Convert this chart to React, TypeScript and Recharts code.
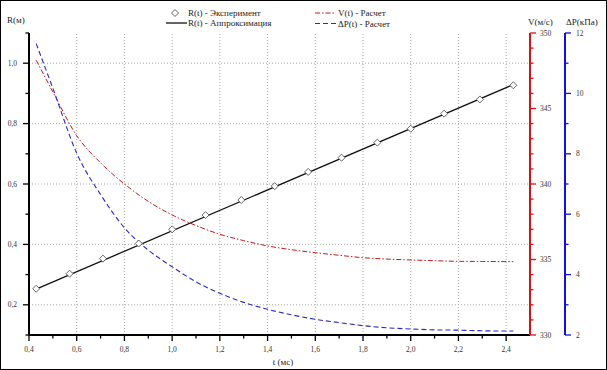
import React from 'react';
import { ComposedChart, XAxis, YAxis, Line, Scatter, ReferenceLine } from 'recharts';

// Experiment points R(t)
const tExp = [0.43, 0.57, 0.71, 0.86, 1.0, 1.14, 1.29, 1.43, 1.57, 1.71, 1.86, 2.0, 2.14, 2.29, 2.43];
const rExp = [0.253, 0.303, 0.353, 0.403, 0.45, 0.497, 0.547, 0.593, 0.64, 0.687, 0.737, 0.783, 0.833, 0.88, 0.927];
// Approximation line
const tFit = [0.43, 2.43];
const rFit = [0.252, 0.929];
// Calculated V(t) and dP(t)
const tCalc = [0.43, 0.5, 0.6, 0.7, 0.8, 0.9, 1.0, 1.1, 1.2, 1.3, 1.4, 1.5, 1.6, 1.7, 1.8, 1.9, 2.0, 2.1, 2.2, 2.3, 2.43];
const vCalc = [348.2, 346.1, 343.2, 341.4, 340.0, 338.85, 337.95, 337.25, 336.67, 336.25, 335.9, 335.65, 335.45, 335.28, 335.12, 335.03, 334.97, 334.92, 334.88, 334.87, 334.86];
const pCalc = [11.65, 10.17, 8.02, 6.65, 5.55, 4.81, 4.26, 3.76, 3.38, 3.08, 2.85, 2.67, 2.52, 2.41, 2.31, 2.24, 2.2, 2.17, 2.16, 2.14, 2.13];

// Ticks
const xTicks = [0.4, 0.5, 0.6, 0.7, 0.8, 0.9, 1.0, 1.1, 1.2, 1.3, 1.4, 1.5, 1.6, 1.7, 1.8, 1.9, 2.0, 2.1, 2.2, 2.3, 2.4];
const rTicks = [0.1, 0.2, 0.3, 0.4, 0.5, 0.6, 0.7, 0.8, 0.9, 1.0, 1.1];
const vTicks = [330, 331, 332, 333, 334, 335, 336, 337, 338, 339, 340, 341, 342, 343, 344, 345, 346, 347, 348, 349, 350];
const pTicks = [2, 3, 4, 5, 6, 7, 8, 9, 10, 11, 12];
const xGrid = [0.6, 0.8, 1.0, 1.2, 1.4, 1.6, 1.8, 2.0, 2.2, 2.4];
const rGrid = [0.2, 0.4, 0.6, 0.8, 1.0];

const expData = tExp.map((t, i) => ({ t, r: rExp[i] }));
const fitData = tFit.map((t, i) => ({ t, r: rFit[i] }));
const calcData = tCalc.map((t, i) => ({ t, v: vCalc[i], p: pCalc[i] }));

const FONT = '"Liberation Serif", "DejaVu Serif", serif';
const LABEL_COLOR = '#333';
const RED = '#e01010';
const BLUE = '#1010e0';

const fmt = (v: number) => v.toFixed(1).replace('.', ',');

const XTick = (props: any) => {
  const { x, y, payload } = props;
  const v = payload.value as number;
  const major = Math.round(v * 10) % 2 === 0;
  return (
    <g>
      <line x1={x} y1={y} x2={x} y2={y + (major ? 6 : 3.5)} stroke="#000" strokeWidth={1.3} />
      {major && (
        <text x={x} y={y + 14} textAnchor="middle" dominantBaseline="central" fontSize={7.5} fontFamily={FONT} fill={LABEL_COLOR} stroke="none">
          {fmt(v)}
        </text>
      )}
    </g>
  );
};

const RTick = (props: any) => {
  const { x, y, payload } = props;
  const v = payload.value as number;
  const major = Math.round(v * 10) % 2 === 0;
  return (
    <g>
      <line x1={x} y1={y} x2={x - (major ? 6 : 3.5)} y2={y} stroke="#000" strokeWidth={1.3} />
      {major && (
        <text x={x - 12} y={y} textAnchor="end" dominantBaseline="central" fontSize={7.5} fontFamily={FONT} fill={LABEL_COLOR} stroke="none">
          {fmt(v)}
        </text>
      )}
    </g>
  );
};

const VTick = (props: any) => {
  const { x, y, payload } = props;
  const v = payload.value as number;
  const major = v % 5 === 0;
  return (
    <g>
      <line x1={x} y1={y} x2={x + (major ? 6 : 3.5)} y2={y} stroke={RED} strokeWidth={1.3} />
      {major && (
        <text x={x + 10} y={y} textAnchor="start" dominantBaseline="central" fontSize={7.5} fontFamily={FONT} fill={LABEL_COLOR} stroke="none">
          {v}
        </text>
      )}
    </g>
  );
};

const PTick = (props: any) => {
  const { x, y, payload } = props;
  const v = payload.value as number;
  const major = v % 2 === 0;
  return (
    <g>
      <line x1={x} y1={y} x2={x + (major ? 6 : 3.5)} y2={y} stroke={BLUE} strokeWidth={1.3} />
      {major && (
        <text x={x + 11} y={y} textAnchor="start" dominantBaseline="central" fontSize={7.5} fontFamily={FONT} fill={LABEL_COLOR} stroke="none">
          {v}
        </text>
      )}
    </g>
  );
};

const Diamond = (props: any) => {
  const { cx, cy } = props;
  if (cx == null || cy == null) return <g />;
  const s = 3.5;
  return (
    <polygon
      points={`${cx},${cy - s} ${cx + s},${cy} ${cx},${cy + s} ${cx - s},${cy}`}
      fill="#fff"
      stroke="#555"
      strokeWidth={0.9}
    />
  );
};

const textStyle: React.CSSProperties = {
  position: 'absolute',
  fontFamily: FONT,
  fontSize: 9,
  color: '#222',
  whiteSpace: 'nowrap',
  lineHeight: '10px',
};

export default function App() {
  return (
    <div style={{ position: 'absolute', left: 0, top: 0, width: 607, height: 370, background: '#fff', overflow: 'hidden' }}>
      <div style={{ position: 'absolute', left: 0, top: 0 }}>
        <ComposedChart width={607} height={370} margin={{ top: 33, right: 0, bottom: 0, left: 0 }}>
          <XAxis
            type="number"
            dataKey="t"
            domain={[0.4, 2.5]}
            allowDataOverflow
            ticks={xTicks}
            interval={0}
            height={35}
            tickSize={0}
            tickMargin={0}
            tickLine={false}
            tick={<XTick />}
            stroke="#000"
            axisLine={{ stroke: '#000', strokeWidth: 2 }}
          />
          <YAxis
            yAxisId="r"
            orientation="left"
            type="number"
            domain={[0.1, 1.1]}
            allowDataOverflow
            ticks={rTicks}
            interval={0}
            width={29}
            tickSize={0}
            tickMargin={0}
            tickLine={false}
            tick={<RTick />}
            stroke="#000"
            axisLine={{ stroke: '#000', strokeWidth: 2 }}
          />
          <YAxis
            yAxisId="v"
            orientation="right"
            type="number"
            domain={[330, 350]}
            allowDataOverflow
            ticks={vTicks}
            interval={0}
            width={35}
            tickSize={0}
            tickMargin={0}
            tickLine={false}
            tick={<VTick />}
            stroke={RED}
            axisLine={{ stroke: RED, strokeWidth: 2 }}
          />
          <YAxis
            yAxisId="zp"
            orientation="right"
            type="number"
            domain={[2, 12]}
            allowDataOverflow
            ticks={pTicks}
            interval={0}
            width={42}
            tickSize={0}
            tickMargin={0}
            tickLine={false}
            tick={<PTick />}
            stroke={BLUE}
            axisLine={{ stroke: BLUE, strokeWidth: 2 }}
          />
          {xGrid.map((g) => (
            <ReferenceLine key={'x' + g} x={g} yAxisId="r" stroke="#a8a8a8" strokeWidth={1} strokeDasharray="1 2" />
          ))}
          {rGrid.map((g) => (
            <ReferenceLine key={'r' + g} y={g} yAxisId="r" stroke="#a8a8a8" strokeWidth={1} strokeDasharray="1 2" />
          ))}
          <Line
            data={calcData}
            dataKey="v"
            yAxisId="v"
            type="monotone"
            stroke="#c41a1a"
            strokeWidth={1}
            strokeDasharray="5 2 1.5 2"
            dot={false}
            activeDot={false}
            isAnimationActive={false}
          />
          <Line
            data={calcData}
            dataKey="p"
            yAxisId="zp"
            type="monotone"
            stroke="#2a2ac8"
            strokeWidth={1.1}
            strokeDasharray="5 3"
            dot={false}
            activeDot={false}
            isAnimationActive={false}
          />
          <Line
            data={fitData}
            dataKey="r"
            yAxisId="r"
            type="linear"
            stroke="#111"
            strokeWidth={1.3}
            dot={false}
            activeDot={false}
            isAnimationActive={false}
          />
          <Scatter data={expData} dataKey="r" yAxisId="r" shape={<Diamond />} isAnimationActive={false} />
        </ComposedChart>
      </div>

      {/* Legend */}
      <svg width={607} height={32} style={{ position: 'absolute', left: 0, top: 0 }}>
        <polygon points="175,9.5 178.5,13 175,16.5 171.5,13" fill="#fff" stroke="#555" strokeWidth={0.9} />
        <line x1={166} y1={23} x2={187} y2={23} stroke="#111" strokeWidth={1.3} />
        <line x1={315} y1={13} x2={336} y2={13} stroke="#c41a1a" strokeWidth={1} strokeDasharray="5 2 1.5 2" />
        <line x1={315} y1={23.5} x2={336} y2={23.5} stroke="#2a2ac8" strokeWidth={1.1} strokeDasharray="5 3" />
      </svg>
      <div style={{ ...textStyle, left: 188, top: 8 }}>R(t) - Эксперимент</div>
      <div style={{ ...textStyle, left: 188, top: 18 }}>R(t) - Аппроксимация</div>
      <div style={{ ...textStyle, left: 338, top: 8 }}>V(t) - Расчет</div>
      <div style={{ ...textStyle, left: 338, top: 18.5 }}>ΔP(t) - Расчет</div>

      {/* Axis titles */}
      <div style={{ ...textStyle, left: 7, top: 15 }}>R(м)</div>
      <div style={{ ...textStyle, left: 528, top: 17 }}>V(м/с)</div>
      <div style={{ ...textStyle, left: 566, top: 17 }}>ΔP(кПа)</div>
      <div style={{ ...textStyle, left: 283, top: 357, transform: 'translateX(-50%)' }}>t (мс)</div>

      {/* Frame */}
      <div style={{ position: 'absolute', left: 0, top: 0, width: 607, height: 370, boxSizing: 'border-box', border: '1px solid #000', pointerEvents: 'none' }} />
    </div>
  );
}
